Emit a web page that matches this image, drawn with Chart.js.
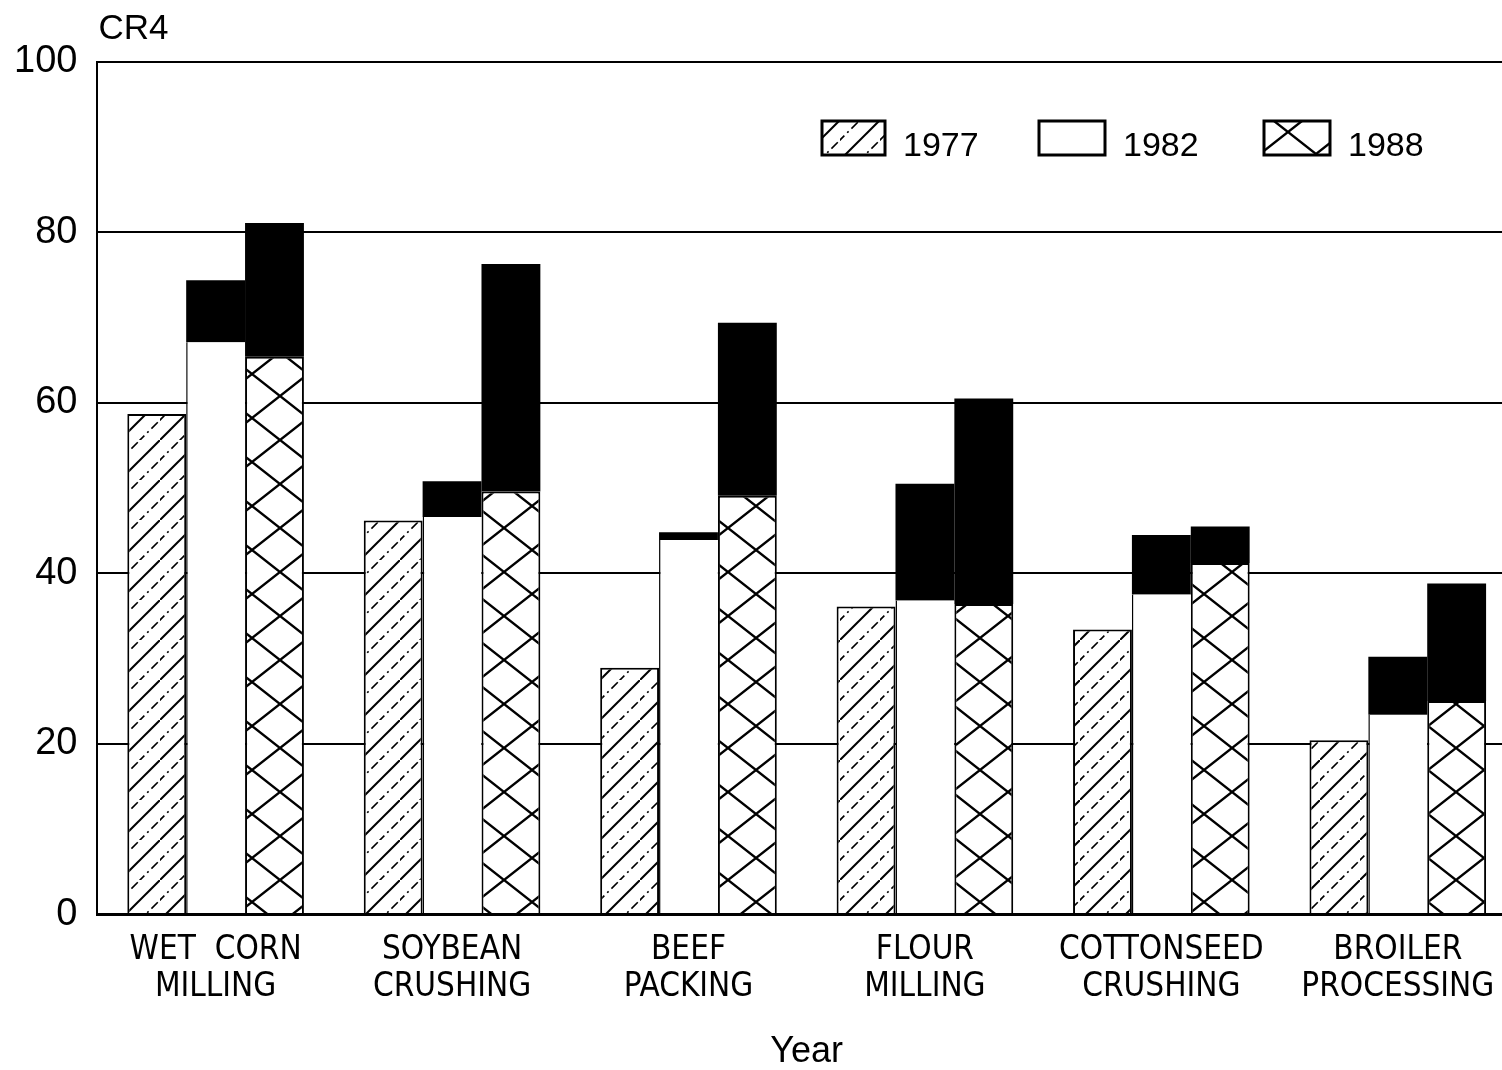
<!DOCTYPE html>
<html>
<head>
<meta charset="utf-8">
<script src="https://cdn.jsdelivr.net/npm/chart.js@4.4.0/dist/chart.umd.min.js"></script>
<style>
  html, body { margin:0; padding:0; background:#fff; overflow:hidden; }
  #wrap { width:1520px; height:1070px; position:relative; }
</style>
</head>
<body>
<div id="wrap"><canvas id="cr4Chart"></canvas></div>
<script>
// industries (x categories)
const industries = [
  ['WET  CORN', 'MILLING'],
  ['SOYBEAN', 'CRUSHING'],
  ['BEEF', 'PACKING'],
  ['FLOUR', 'MILLING'],
  ['COTTONSEED', 'CRUSHING'],
  ['BROILER', 'PROCESSING']
];

// CR4 values
const cr1977 = [58.7, 46.2, 28.9, 36.1, 33.4, 20.4];
const cr1982 = [67.1, 46.6, 43.9, 36.8, 37.5, 23.4];
const cr1982Top = [74.4, 50.8, 44.8, 50.5, 44.5, 30.2];   // top of black block
const cr1988 = [65.4, 49.6, 49.1, 36.4, 41.2, 25.0];
const cr1988Top = [81.1, 76.3, 69.4, 60.5, 45.5, 38.8];   // top of black block

const yTicks = [0, 20, 40, 60, 80, 100];
const legendYears = ['1977', '1982', '1988'];

const ink = '#000';
const numFont = '"Liberation Sans", Arial, sans-serif';
const labelFont = '"Liberation Sans Narrow", "DejaVu Sans Condensed", "Liberation Sans", sans-serif';

// fill patterns
function hatchPattern() {
  const s = 40;
  const c = document.createElement('canvas');
  c.width = s; c.height = s;
  const g = c.getContext('2d');
  g.fillStyle = '#fff'; g.fillRect(0, 0, s, s);
  g.strokeStyle = ink;
  // solid lines
  g.lineWidth = 2;
  g.beginPath();
  g.moveTo(-2, s + 2); g.lineTo(s + 2, -2);
  g.stroke();
  // dash-dot lines in between
  g.lineWidth = 1.6;
  g.setLineDash([9, 4, 2, 4]);
  g.beginPath();
  g.moveTo(-2, s / 2 + 2); g.lineTo(s / 2 + 2, -2);
  g.moveTo(s / 2 - 2, s + 2); g.lineTo(s + 2, s / 2 - 2);
  g.stroke();
  return g.createPattern(c, 'repeat');
}
function crossPattern() {
  const w = 56, h = 44;
  const c = document.createElement('canvas');
  c.width = w; c.height = h;
  const g = c.getContext('2d');
  g.fillStyle = '#fff'; g.fillRect(0, 0, w, h);
  g.strokeStyle = ink; g.lineWidth = 2.4;
  g.beginPath();
  g.moveTo(0, 0); g.lineTo(w, h);
  g.moveTo(0, h); g.lineTo(w, 0);
  g.stroke();
  return g.createPattern(c, 'repeat');
}
const hatch = hatchPattern();
const cross = crossPattern();

const diff = (top, base) => top.map((v, i) => +(v - base[i]).toFixed(1));

// title "CR4" and the legend drawn on the canvas
const extras = {
  id: 'extras',
  afterDraw(chart) {
    const { ctx, chartArea } = chart;
    ctx.save();
    ctx.fillStyle = ink;
    ctx.font = '35px ' + numFont;
    ctx.textBaseline = 'middle';
    ctx.textAlign = 'left';
    ctx.fillText('CR4', chartArea.left + 1, 29);

    const fills = [hatch, '#fff', cross];
    const boxX = [822, 1039, 1264];
    const boxW = [63, 66, 66];
    const boxY = 121, boxH = 34;
    ctx.font = '34px ' + numFont;
    legendYears.forEach((yr, i) => {
      ctx.fillStyle = fills[i];
      ctx.fillRect(boxX[i], boxY, boxW[i], boxH);
      ctx.lineWidth = 3;
      ctx.strokeStyle = ink;
      ctx.strokeRect(boxX[i], boxY, boxW[i], boxH);
      ctx.fillStyle = ink;
      ctx.fillText(yr, boxX[i] + boxW[i] + 18, boxY + boxH / 2 + 9);
    });
    ctx.restore();
  }
};

const ctx = document.getElementById('cr4Chart').getContext('2d');
const chart = new Chart(ctx, {
  type: 'bar',
  data: {
    labels: industries,
    datasets: [
      { label: '1977', data: cr1977, stack: 'a', backgroundColor: hatch,
        borderColor: ink, borderWidth: 2, borderSkipped: 'bottom' },
      { label: '1982', data: cr1982, stack: 'b', backgroundColor: '#fff',
        borderColor: ink, borderWidth: { left: 1.5, top: 0, right: 0, bottom: 0 } },
      { label: '1982 range', data: diff(cr1982Top, cr1982), stack: 'b', backgroundColor: ink, borderWidth: 0 },
      { label: '1988', data: cr1988, stack: 'c', backgroundColor: cross,
        borderColor: ink, borderWidth: 2, borderSkipped: 'bottom' },
      { label: '1988 range', data: diff(cr1988Top, cr1988), stack: 'c', backgroundColor: ink, borderWidth: 0 }
    ]
  },
  options: {
    responsive: true,
    maintainAspectRatio: false,
    animation: false,
    layout: { padding: { left: -6, right: 4, top: 62, bottom: 0 } },
    datasets: { bar: { categoryPercentage: 0.747, barPercentage: 1.0 } },
    plugins: { legend: { display: false }, tooltip: { enabled: false } },
    scales: {
      x: {
        stacked: true,
        grid: { display: false },
        border: { display: true, color: ink, width: 3 },
        ticks: { color: ink, padding: 10, maxRotation: 0, autoSkip: false,
                 font: { family: labelFont, size: 33, lineHeight: 1.12 } },
        title: { display: true, text: 'Year', color: ink, padding: { top: 18, bottom: 0 },
                 font: { family: numFont, size: 36, lineHeight: 1 } }
      },
      y: {
        stacked: true,
        min: 0, max: 100,
        afterBuildTicks: (s) => { s.ticks = yTicks.map(v => ({ value: v })); },
        grid: { color: ink, lineWidth: 2, drawTicks: false },
        border: { display: true, color: ink, width: 2 },
        ticks: { color: ink, padding: 20, font: { family: numFont, size: 38 } }
      }
    }
  },
  plugins: [extras]
});
</script>
</body>
</html>
